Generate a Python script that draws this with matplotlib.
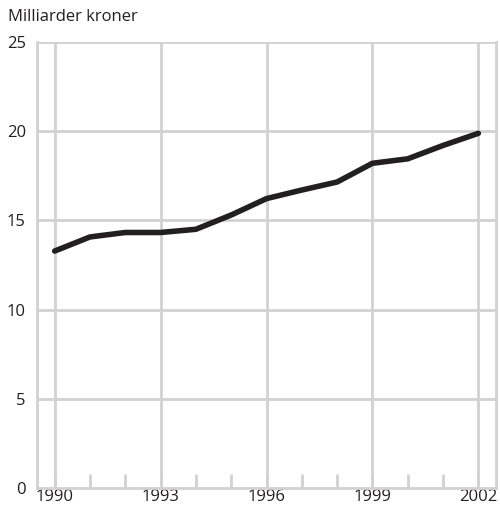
import matplotlib
matplotlib.use("Agg")
import matplotlib.pyplot as plt

years = [1990, 1991, 1992, 1993, 1994, 1995, 1996, 1997, 1998, 1999, 2000, 2001, 2002]
values = [13.28, 14.07, 14.32, 14.32, 14.5, 15.3, 16.22, 16.7, 17.15, 18.2, 18.45, 19.2, 19.88]
xticks = [1990, 1993, 1996, 1999, 2002]
yticks = [0, 5, 10, 15, 20, 25]

plt.rcParams['font.family'] = ['Open Sans', 'DejaVu Sans']
grid_c = '#d2d2d4'

fig = plt.figure(figsize=(5, 5.12), dpi=100)
ax = fig.add_axes([0.074, 0.047, 0.918, 0.871])
ax.set_xlim(1989.5, 2002.5)
ax.set_ylim(0, 25)

for x in xticks:
    ax.axvline(x, color=grid_c, lw=2, zorder=1)
for y in yticks[1:]:
    ax.axhline(y, color=grid_c, lw=2, zorder=1)

ax.plot(years, values, color='#231f20', lw=4, solid_capstyle='round', solid_joinstyle='round', zorder=3)

for s in ['left', 'bottom']:
    ax.spines[s].set_color(grid_c)
    ax.spines[s].set_linewidth(2)
ax.spines['top'].set_visible(False)
ax.spines['right'].set_color(grid_c)
ax.spines['right'].set_linewidth(2)

ax.set_xticks(xticks)
ax.set_xticks(years, minor=True)
ax.set_yticks(yticks)
ax.set_xticklabels([str(x) for x in xticks])
ax.tick_params(axis='x', which='both', direction='in', length=10, width=2, color=grid_c, labelsize=12, pad=1, labelcolor='#231f20')
ax.tick_params(axis='y', length=0, labelsize=12, pad=8, labelcolor='#231f20')

fig.text(0.016, 0.966, 'Milliarder kroner', fontsize=12, color='#231f20', va='center', ha='left')

fig.savefig('out.png', dpi=100)
